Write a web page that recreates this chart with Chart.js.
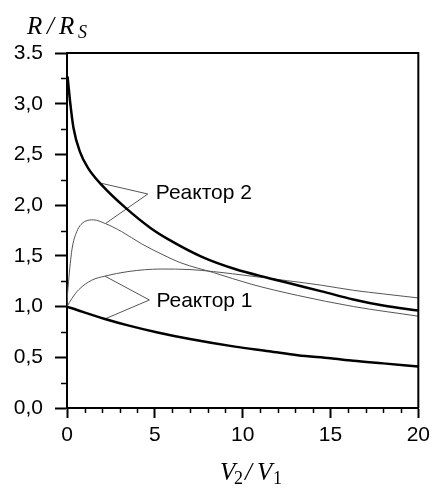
<!DOCTYPE html>
<html>
<head>
<meta charset="utf-8">
<script src="https://cdn.jsdelivr.net/npm/chart.js@4/dist/chart.umd.min.js"></script>
<style>
  html, body { margin: 0; padding: 0; background: #fff; }
  #wrap { width: 435px; height: 492px; }
</style>
</head>
<body>
<div id="wrap"><canvas id="chart" width="435" height="492"></canvas></div>
<script>
// values
const thickR2X = [0.03, 0.1, 0.19, 0.37, 0.75, 1.22, 1.97, 3.29, 4.79, 5.8, 7.68, 9.56, 11.5, 13, 14.5, 16.3, 18, 20];
const thickR2Y = [3.27, 3.15, 3.0, 2.76, 2.52, 2.36, 2.2, 1.98, 1.77, 1.66, 1.49, 1.37, 1.28, 1.215, 1.15, 1.07, 1.01, 0.96];

const thinR2X = [0, 0.03, 0.09, 0.28, 0.56, 1.03, 1.5, 2.16, 3.1, 4.23, 5.35, 6.5, 8.34, 10.5, 13.13, 16.32, 20];
const thinR2Y = [1.0, 1.12, 1.25, 1.56, 1.74, 1.84, 1.855, 1.82, 1.74, 1.62, 1.52, 1.43, 1.335, 1.22, 1.11, 1.0, 0.905];

const thinR1X = [0, 0.28, 0.66, 1.41, 2.16, 3.47, 5.35, 7, 8.34, 10.5, 12.56, 14.5, 16.32, 18, 20];
const thinR1Y = [1.0, 1.08, 1.165, 1.26, 1.3, 1.345, 1.37, 1.365, 1.345, 1.3, 1.255, 1.21, 1.16, 1.125, 1.085];

const thickR1X = [0, 0.85, 2.16, 3.47, 5.16, 7, 9.56, 11.5, 13.13, 15, 16.3, 18, 20];
const thickR1Y = [1.0, 0.95, 0.878, 0.815, 0.745, 0.68, 0.605, 0.56, 0.52, 0.49, 0.465, 0.44, 0.41];

// callout lines: curve point -> label anchor -> curve point
const calloutR2X = [1.97, 4.6, 2.2];
const calloutR2Y = [2.215, 2.11, 1.82];
const calloutR1X = [2.16, 4.69, 2.16];
const calloutR1Y = [1.3, 1.065, 0.878];
const calloutLabels = ['Реактор 2', 'Реактор 1'];

const xTickLabels = ['0', '5', '10', '15', '20'];
const yTickLabels = ['0,0', '0,5', '1,0', '1,5', '2,0', '2,5', '3,0', '3.5'];
const xMinor = [1, 2, 3, 4, 6, 7, 8, 9, 11, 12, 13, 14, 16, 17, 18, 19];
const yMinor = [0.25, 0.75, 1.25, 1.75, 2.25, 2.75, 3.25];

const pts = (xs, ys) => xs.map((x, i) => ({ x: x, y: ys[i] }));

const curve = (xs, ys, width, color) => ({
  data: pts(xs, ys),
  borderColor: color,
  borderWidth: width,
  pointRadius: 0,
  fill: false,
  cubicInterpolationMode: 'monotone',
});
const callout = (xs, ys) => ({
  data: pts(xs, ys),
  borderColor: '#555',
  borderWidth: 1,
  pointRadius: 0,
  fill: false,
  tension: 0,
});

const extras = {
  id: 'extras',
  afterDraw(chart) {
    const ctx = chart.ctx;
    const a = chart.chartArea;
    const xs = chart.scales.x, ys = chart.scales.y;
    ctx.save();
    ctx.strokeStyle = '#000';
    // top and right frame
    ctx.lineWidth = 2;
    ctx.beginPath();
    ctx.moveTo(a.left, a.top);
    ctx.lineTo(a.right, a.top);
    ctx.lineTo(a.right, a.bottom);
    ctx.stroke();
    // minor ticks
    ctx.lineWidth = 1.5;
    ctx.beginPath();
    xMinor.forEach(v => {
      const px = Math.round(xs.getPixelForValue(v)) + 0.5;
      ctx.moveTo(px, a.bottom);
      ctx.lineTo(px, a.bottom + 5);
    });
    yMinor.forEach(v => {
      const py = Math.round(ys.getPixelForValue(v)) + 0.5;
      ctx.moveTo(a.left, py);
      ctx.lineTo(a.left - 6, py);
    });
    ctx.stroke();

    // callout labels
    ctx.fillStyle = '#000';
    ctx.font = '21px "Liberation Sans", Arial, sans-serif';
    ctx.textBaseline = 'middle';
    ctx.textAlign = 'left';
    ctx.fillText(calloutLabels[0], xs.getPixelForValue(calloutR2X[1]) + 8, ys.getPixelForValue(calloutR2Y[1]) - 1);
    ctx.fillText(calloutLabels[1], xs.getPixelForValue(calloutR1X[1]) + 7, ys.getPixelForValue(calloutR1Y[1]) + 1);

    // axis titles (math style), glyphs placed one by one
    ctx.textBaseline = 'alphabetic';
    const big = 'italic 25px "Liberation Serif", "Times New Roman", serif';
    const subI = 'italic 18px "Liberation Serif", "Times New Roman", serif';
    const subN = '18px "Liberation Serif", "Times New Roman", serif';
    const put = (t, f, x, y) => { ctx.font = f; ctx.fillText(t, x, y); };
    put('R', big, 27, 34);
    put('/', big, 47, 34);
    put('R', big, 59, 34);
    put('S', subI, 78, 38);
    put('V', big, 220, 480);
    put('2', subN, 234, 484);
    put('/', big, 245, 480);
    put('V', big, 257, 480);
    put('1', subN, 273, 484);
    ctx.restore();
  }
};

new Chart(document.getElementById('chart'), {
  type: 'line',
  data: {
    datasets: [
      curve(thickR2X, thickR2Y, 2.5, '#000'),
      curve(thickR1X, thickR1Y, 2.5, '#000'),
      curve(thinR2X, thinR2Y, 1, '#555'),
      curve(thinR1X, thinR1Y, 1, '#555'),
      callout(calloutR2X, calloutR2Y),
      callout(calloutR1X, calloutR1Y),
    ],
  },
  options: {
    responsive: false,
    animation: false,
    events: [],
    layout: { padding: { top: 53, right: 13, left: 0, bottom: 0 } },
    plugins: { legend: { display: false }, tooltip: { enabled: false } },
    scales: {
      x: {
        type: 'linear',
        min: 0,
        max: 20,
        afterFit: s => { s.height = 84; },
        border: { display: true, color: '#000', width: 2 },
        grid: { drawOnChartArea: false, drawTicks: true, tickLength: 10, tickWidth: 2, tickColor: '#000' },
        ticks: {
          stepSize: 5,
          padding: 5,
          color: '#000',
          maxRotation: 0,
          font: { family: '"Liberation Sans", Arial, sans-serif', size: 21 },
          callback: (v, i) => xTickLabels[i],
        },
      },
      y: {
        min: 0,
        max: 3.5,
        afterFit: s => { s.width = 67; },
        border: { display: true, color: '#000', width: 2 },
        grid: { drawOnChartArea: false, drawTicks: true, tickLength: 12, tickWidth: 2, tickColor: '#000' },
        ticks: {
          stepSize: 0.5,
          padding: 12,
          color: '#000',
          font: { family: '"Liberation Sans", Arial, sans-serif', size: 21 },
          callback: (v, i) => yTickLabels[i],
        },
      },
    },
  },
  plugins: [extras],
});
</script>
</body>
</html>
